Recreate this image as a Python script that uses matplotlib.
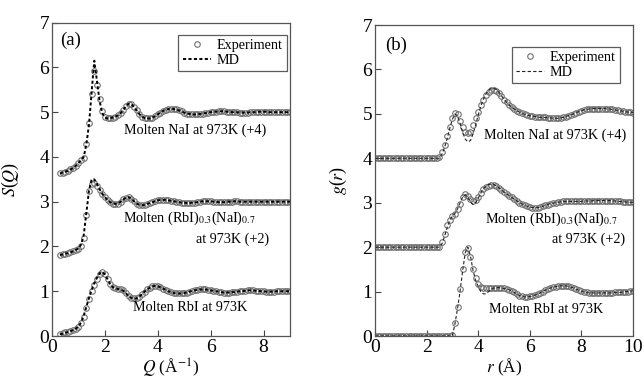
import numpy as np
import matplotlib
matplotlib.use("Agg")
import matplotlib.pyplot as plt

plt.rcParams['font.family'] = ['Liberation Serif', 'DejaVu Serif']
plt.rcParams['mathtext.fontset'] = 'stix'

# ---- S(Q) data (raw, offsets added when plotting) ----
q = np.round(np.arange(0.3, 9.001, 0.1), 2)

sq_nai_exp = [-0.36, -0.35, -0.33, -0.31, -0.28, -0.25, -0.20, -0.14, -0.07, -0.02,
              0.30, 0.75, 1.40, 1.93, 1.60, 1.30, 1.02, 0.90, 0.86, 0.87,
              0.88, 0.90, 0.93, 0.98, 1.05, 1.13, 1.18, 1.18, 1.12, 1.04,
              0.96, 0.90, 0.87, 0.86, 0.86, 0.88, 0.91, 0.95, 0.99, 1.03,
              1.05, 1.07, 1.07, 1.07, 1.06, 1.04, 1.02, 0.99, 0.97, 0.96,
              0.95, 0.95, 0.95, 0.96, 0.97, 0.98, 0.99, 1.00, 1.01, 1.01,
              1.02, 1.02, 1.02, 1.01, 1.01, 1.00, 1.00, 1.00, 0.99, 0.99,
              0.99, 0.99, 1.00, 1.00, 1.00, 1.01, 1.01, 1.01, 1.01, 1.00,
              1.00, 1.00, 1.00, 1.00, 1.00, 1.00, 1.00, 1.00]
sq_nai_md = [-0.37, -0.35, -0.33, -0.31, -0.28, -0.25, -0.20, -0.14, -0.07, 0.00,
             0.28, 0.72, 1.45, 2.15, 1.70, 1.25, 0.98, 0.88, 0.86, 0.87,
             0.88, 0.90, 0.93, 0.98, 1.05, 1.14, 1.19, 1.18, 1.12, 1.04,
             0.96, 0.90, 0.87, 0.86, 0.86, 0.88, 0.91, 0.95, 0.99, 1.03,
             1.05, 1.07, 1.08, 1.07, 1.06, 1.04, 1.02, 0.99, 0.97, 0.96,
             0.95, 0.95, 0.95, 0.96, 0.97, 0.98, 0.99, 1.00, 1.01, 1.01,
             1.02, 1.02, 1.02, 1.01, 1.01, 1.00, 1.00, 1.00, 0.99, 0.99,
             0.99, 0.99, 1.00, 1.00, 1.00, 1.01, 1.01, 1.01, 1.01, 1.00,
             1.00, 1.00, 1.00, 1.00, 1.00, 1.00, 1.00, 1.00]

sq_mix_exp = [-0.18, -0.17, -0.16, -0.15, -0.13, -0.11, -0.08, -0.05, 0.02, 0.20,
              0.70, 1.25, 1.40, 1.42, 1.36, 1.27, 1.18, 1.10, 1.04, 0.99,
              0.96, 0.95, 0.96, 1.00, 1.05, 1.09, 1.10, 1.07, 1.01, 0.96,
              0.93, 0.92, 0.93, 0.95, 0.97, 0.99, 1.01, 1.03, 1.04, 1.04,
              1.04, 1.03, 1.02, 1.01, 1.00, 0.99, 0.98, 0.98, 0.97, 0.97,
              0.98, 0.98, 0.99, 1.00, 1.01, 1.01, 1.01, 1.01, 1.00, 1.00,
              0.99, 0.99, 0.99, 1.00, 1.00, 1.00, 1.01, 1.01, 1.00, 1.00,
              1.00, 1.00, 1.00, 1.00, 1.00, 1.00, 1.00, 1.00, 1.00, 1.00,
              1.00, 1.00, 1.00, 1.00, 1.00, 1.00, 1.00, 1.00]
sq_mix_md = [-0.19, -0.18, -0.16, -0.15, -0.13, -0.11, -0.08, -0.04, 0.04, 0.25,
             0.75, 1.25, 1.50, 1.50, 1.40, 1.28, 1.18, 1.10, 1.04, 0.99,
             0.96, 0.95, 0.96, 1.00, 1.05, 1.09, 1.10, 1.07, 1.01, 0.96,
             0.93, 0.92, 0.93, 0.95, 0.97, 0.99, 1.01, 1.03, 1.04, 1.04,
             1.04, 1.03, 1.02, 1.01, 1.00, 0.99, 0.98, 0.98, 0.97, 0.97,
             0.98, 0.98, 0.99, 1.00, 1.01, 1.01, 1.01, 1.01, 1.00, 1.00,
             0.99, 0.99, 0.99, 1.00, 1.00, 1.00, 1.01, 1.01, 1.00, 1.00,
             1.00, 1.00, 1.00, 1.00, 1.00, 1.00, 1.00, 1.00, 1.00, 1.00,
             1.00, 1.00, 1.00, 1.00, 1.00, 1.00, 1.00, 1.00]

sq_rbi_exp = [0.05, 0.06, 0.08, 0.09, 0.11, 0.13, 0.16, 0.20, 0.28, 0.42,
              0.62, 0.82, 1.00, 1.15, 1.28, 1.38, 1.42, 1.38, 1.28, 1.17,
              1.10, 1.07, 1.06, 1.05, 1.02, 0.96, 0.90, 0.86, 0.84, 0.85,
              0.88, 0.93, 0.99, 1.04, 1.08, 1.11, 1.12, 1.11, 1.09, 1.06,
              1.03, 1.00, 0.98, 0.96, 0.95, 0.95, 0.95, 0.96, 0.97, 0.99,
              1.01, 1.02, 1.03, 1.04, 1.04, 1.04, 1.03, 1.02, 1.01, 1.00,
              0.99, 0.98, 0.97, 0.97, 0.97, 0.98, 0.98, 0.99, 1.00, 1.00,
              1.01, 1.02, 1.02, 1.02, 1.01, 1.01, 1.00, 1.00, 0.99, 0.99,
              0.99, 0.99, 1.00, 1.00, 1.00, 1.00, 1.00, 1.00]
sq_rbi_md = [0.04, 0.05, 0.07, 0.09, 0.11, 0.13, 0.16, 0.21, 0.30, 0.45,
             0.65, 0.85, 1.03, 1.18, 1.30, 1.40, 1.43, 1.38, 1.27, 1.16,
             1.09, 1.06, 1.05, 1.04, 1.01, 0.95, 0.89, 0.85, 0.83, 0.84,
             0.88, 0.93, 0.99, 1.04, 1.08, 1.11, 1.12, 1.11, 1.09, 1.06,
             1.03, 1.00, 0.98, 0.96, 0.95, 0.95, 0.95, 0.96, 0.97, 0.99,
             1.01, 1.02, 1.03, 1.04, 1.04, 1.04, 1.03, 1.02, 1.01, 1.00,
             0.99, 0.98, 0.97, 0.97, 0.97, 0.98, 0.98, 0.99, 1.00, 1.00,
             1.01, 1.02, 1.02, 1.02, 1.01, 1.01, 1.00, 1.00, 0.99, 0.99,
             0.99, 0.99, 1.00, 1.00, 1.00, 1.00, 1.00, 1.00]

# ---- g(r) data ----
r = np.round(np.arange(0.0, 10.001, 0.1), 2)

gr_nai_exp = [0.0] * 25 + [
    0.02, 0.15, 0.30, 0.50, 0.70, 0.90, 1.03, 1.00, 0.85, 0.70,
    0.60, 0.56, 0.60, 0.75, 0.90, 1.05, 1.20, 1.32, 1.42, 1.49,
    1.53, 1.54, 1.52, 1.47, 1.40, 1.32, 1.26, 1.20, 1.15, 1.11,
    1.07, 1.04, 1.01, 0.99, 0.97, 0.96, 0.95, 0.94, 0.93, 0.92,
    0.92, 0.92, 0.91, 0.91, 0.90, 0.90, 0.90, 0.91, 0.92, 0.94,
    0.96, 0.98, 1.00, 1.03, 1.05, 1.07, 1.09, 1.10, 1.11, 1.12,
    1.12, 1.12, 1.12, 1.12, 1.12, 1.11, 1.11, 1.10, 1.09, 1.08,
    1.07, 1.06, 1.05, 1.04, 1.04, 1.03]
gr_nai_md = [0.0] * 26 + [
    0.10, 0.25, 0.45, 0.68, 0.88, 1.00, 0.95, 0.78, 0.58,
    0.43, 0.37, 0.40, 0.55, 0.75, 0.97, 1.17, 1.33, 1.45, 1.53,
    1.57, 1.58, 1.55, 1.49, 1.41, 1.33, 1.26, 1.20, 1.15, 1.11,
    1.07, 1.04, 1.01, 0.99, 0.97, 0.96, 0.95, 0.94, 0.93, 0.92,
    0.92, 0.92, 0.91, 0.91, 0.90, 0.90, 0.90, 0.91, 0.92, 0.94,
    0.96, 0.98, 1.00, 1.03, 1.05, 1.07, 1.09, 1.10, 1.11, 1.12,
    1.12, 1.12, 1.12, 1.12, 1.12, 1.11, 1.11, 1.10, 1.09, 1.08,
    1.07, 1.06, 1.05, 1.04, 1.04, 1.03]

gr_mix_exp = [0.0] * 26 + [
    0.12, 0.30, 0.50, 0.62, 0.70, 0.75, 0.85, 0.98, 1.12, 1.19,
    1.15, 1.08, 1.04, 1.06, 1.14, 1.23, 1.30, 1.35, 1.38, 1.40,
    1.40, 1.38, 1.34, 1.29, 1.24, 1.20, 1.16, 1.12, 1.08, 1.04,
    1.00, 0.97, 0.94, 0.92, 0.90, 0.89, 0.89, 0.89, 0.90, 0.92,
    0.94, 0.96, 0.98, 0.99, 1.00, 1.01, 1.02, 1.03, 1.03, 1.03,
    1.03, 1.03, 1.03, 1.03, 1.03, 1.04, 1.04, 1.04, 1.04, 1.05,
    1.05, 1.05, 1.05, 1.05, 1.05, 1.05, 1.04, 1.04, 1.03, 1.03,
    1.02, 1.02, 1.01, 1.01, 1.01]
gr_mix_md = [0.0] * 26 + [
    0.08, 0.25, 0.45, 0.60, 0.70, 0.76, 0.86, 1.00, 1.13, 1.18,
    1.12, 1.02, 0.96, 1.00, 1.10, 1.22, 1.31, 1.37, 1.41, 1.42,
    1.41, 1.38, 1.34, 1.29, 1.24, 1.20, 1.16, 1.12, 1.08, 1.04,
    1.00, 0.97, 0.94, 0.92, 0.90, 0.89, 0.89, 0.89, 0.90, 0.92,
    0.94, 0.96, 0.98, 0.99, 1.00, 1.01, 1.02, 1.03, 1.03, 1.03,
    1.03, 1.03, 1.03, 1.03, 1.03, 1.04, 1.04, 1.04, 1.04, 1.05,
    1.05, 1.05, 1.05, 1.05, 1.05, 1.05, 1.04, 1.04, 1.03, 1.03,
    1.02, 1.02, 1.01, 1.01, 1.01]

gr_rbi_exp = [0.0] * 30 + [
    0.02, 0.30, 0.65, 1.05, 1.50, 1.88, 1.98, 1.78, 1.50, 1.30,
    1.18, 1.10, 1.08, 1.08, 1.08, 1.08, 1.08, 1.08, 1.08, 1.08,
    1.07, 1.06, 1.04, 1.01, 0.98, 0.94, 0.91, 0.89, 0.88, 0.88,
    0.89, 0.90, 0.92, 0.94, 0.97, 1.00, 1.03, 1.06, 1.08, 1.10,
    1.11, 1.12, 1.13, 1.13, 1.13, 1.12, 1.10, 1.08, 1.05, 1.03,
    1.01, 0.99, 0.98, 0.97, 0.97, 0.97, 0.97, 0.97, 0.97, 0.97,
    0.97, 0.97, 0.97, 0.98, 0.98, 0.98, 0.99, 1.00, 1.00, 1.01,
    1.02]
gr_rbi_md = [0.0] * 30 + [
    0.00, 0.28, 0.62, 1.02, 1.48, 1.88, 2.00, 1.80, 1.48, 1.25,
    1.12, 1.00, 0.95, 0.95, 1.00, 1.05, 1.08, 1.09, 1.09, 1.08,
    1.07, 1.06, 1.04, 1.01, 0.98, 0.94, 0.91, 0.89, 0.88, 0.88,
    0.89, 0.90, 0.92, 0.94, 0.97, 1.00, 1.03, 1.06, 1.08, 1.10,
    1.11, 1.12, 1.13, 1.13, 1.13, 1.12, 1.10, 1.08, 1.05, 1.03,
    1.01, 0.99, 0.98, 0.97, 0.97, 0.97, 0.97, 0.97, 0.97, 0.97,
    0.97, 0.97, 0.97, 0.98, 0.98, 0.98, 0.99, 1.00, 1.00, 1.01,
    1.02]

offsets = [4, 2, 0]
exp_style = dict(ls='none', marker='o', mfc='none', mec='#707070', ms=4.0, mew=0.8)

fig = plt.figure(figsize=(6.44, 3.82), dpi=100)
ax1 = fig.add_axes([0.0807, 0.1204, 0.3696, 0.8203])
ax2 = fig.add_axes([0.5823, 0.1204, 0.4006, 0.8141])

# (a) S(Q)
for i, (e, m) in enumerate([(sq_nai_exp, sq_nai_md), (sq_mix_exp, sq_mix_md), (sq_rbi_exp, sq_rbi_md)]):
    ax1.plot(q, np.array(e) + offsets[i], label='Experiment' if i == 0 else None, **exp_style)
    ax1.plot(q, np.array(m) + offsets[i], color='black', lw=1.4, ls=(0, (1.6, 1.2)),
             label='MD' if i == 0 else None)

# (b) g(r)
for i, (e, m) in enumerate([(gr_nai_exp, gr_nai_md), (gr_mix_exp, gr_mix_md), (gr_rbi_exp, gr_rbi_md)]):
    ax2.plot(r, np.array(e) + offsets[i], label='Experiment' if i == 0 else None, **exp_style)
    ax2.plot(r, np.array(m) + offsets[i], color='#222222', lw=0.8, ls=(0, (3, 2)),
             label='MD' if i == 0 else None)

for ax, xmax in [(ax1, 9), (ax2, 10)]:
    ax.set_xlim(0, xmax)
    ax.set_ylim(0, 7)
    ax.set_yticks(range(0, 8))
    ax.set_xticks(range(0, xmax + 1, 2))
    ax.tick_params(direction='in', length=4, width=0.8, labelsize=14, pad=2, color='#444444')
    for s in ax.spines.values():
        s.set_color('#555555')
        s.set_linewidth(0.9)

ax1.set_xlabel(r'$Q$ (Å$^{-1}$)', fontsize=12.5)
ax1.set_ylabel(r'$S$($Q$)', fontsize=13)
ax2.set_xlabel(r'$r$ (Å)', fontsize=12.5)
ax2.set_ylabel(r'$g$($r$)', fontsize=13)
ax1.xaxis.set_label_coords(0.5, -0.066)
ax2.xaxis.set_label_coords(0.5, -0.066)
ax1.yaxis.set_label_coords(-0.13, 0.5)
ax2.yaxis.set_label_coords(-0.1, 0.5)

ax1.text(0.3, 6.6, '(a)', fontsize=13.5, va='center')
ax2.text(0.4, 6.55, '(b)', fontsize=13.5, va='center')

fs = 10.2
ax1.text(2.72, 4.6, 'Molten NaI at 973K (+4)', fontsize=fs, va='center')
ax1.text(2.70, 2.62, r'Molten (RbI)$_{0.3}$(NaI)$_{0.7}$', fontsize=fs, va='center')
ax1.text(8.22, 2.16, 'at 973K (+2)', fontsize=fs, va='center', ha='right')
ax1.text(3.08, 0.63, 'Molten RbI at 973K', fontsize=fs, va='center')

ax2.text(4.22, 4.52, 'Molten NaI at 973K (+4)', fontsize=fs, va='center')
ax2.text(4.25, 2.63, r'Molten (RbI)$_{0.3}$(NaI)$_{0.7}$', fontsize=fs, va='center')
ax2.text(9.7, 2.18, 'at 973K (+2)', fontsize=fs, va='center', ha='right')
ax2.text(4.4, 0.6, 'Molten RbI at 973K', fontsize=fs, va='center')

for ax, anchor in [(ax1, (0.986, 0.961)), (ax2, (0.95, 0.93))]:
    leg = ax.legend(loc='upper right', bbox_to_anchor=anchor, borderaxespad=0,
                    fontsize=10.2, frameon=True, fancybox=False, handlelength=2.0,
                    handletextpad=0.4, labelspacing=0.15, borderpad=0.3)
    leg.get_frame().set_edgecolor('#333333')
    leg.get_frame().set_linewidth(0.9)

fig.savefig('out.png', dpi=100)
